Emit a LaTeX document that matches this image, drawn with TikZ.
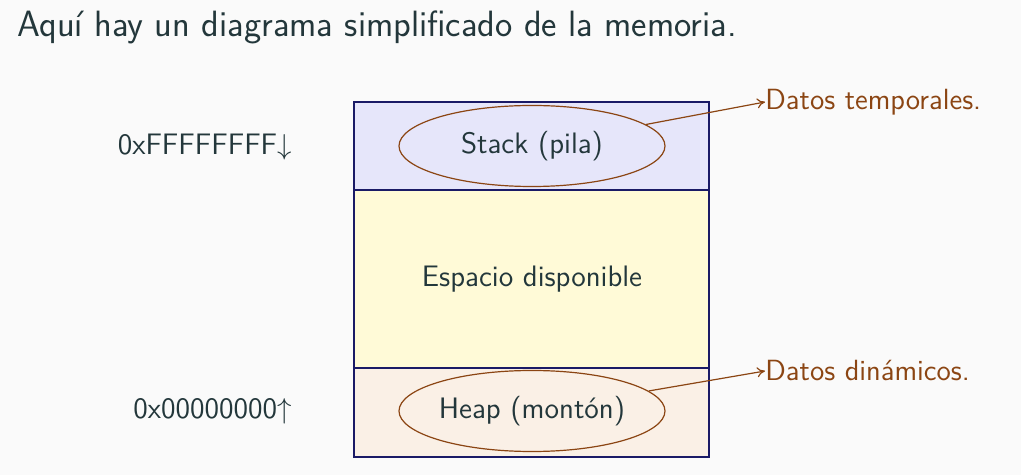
\documentclass[tikz,border=0pt]{standalone}
\usetikzlibrary{shapes.geometric,arrows.meta}
\definecolor{bg}{HTML}{FAFAFA}
\definecolor{txt}{HTML}{23373B}
\definecolor{stackfill}{HTML}{E6E6FA}
\definecolor{spacefill}{HTML}{FFFAD7}
\definecolor{heapfill}{HTML}{FAF0E6}
\definecolor{frame}{HTML}{1A1A66}
\definecolor{brn}{HTML}{8B4513}
\begin{document}
\begin{tikzpicture}[x=0.5pt,y=-0.5pt,
  seg/.style={draw=frame,line width=0.6pt},
  oval/.style={ellipse,draw=brn,line width=0.6pt,minimum width=133pt,minimum height=40.5pt,inner sep=0pt,text=txt,font=\sffamily\fontsize{14.8}{16}\selectfont},
  note/.style={text=brn,anchor=west,inner sep=0pt,font=\sffamily\fontsize{14.6}{16}\selectfont},
  addr/.style={text=txt,anchor=east,inner sep=0pt,font=\sffamily\fontsize{14.8}{16}\selectfont},
  lbl/.style={text=txt,inner sep=0pt,font=\sffamily\fontsize{14.8}{16}\selectfont},
  pointer/.style={draw=brn,line width=0.6pt,-{To[length=4pt,width=5pt]}}]
\fill[bg] (0,0) rectangle (1021,475);
\useasboundingbox (0,0) rectangle (1021,475);
\node[anchor=west,inner sep=0pt,text=txt,font=\sffamily\fontsize{18.3}{20}\selectfont] (title) at (17,27) {Aquí hay un diagrama simplificado de la memoria.};
\filldraw[seg,fill=stackfill] (354,102) rectangle (709,190);
\filldraw[seg,fill=spacefill] (354,190) rectangle (709,368);
\filldraw[seg,fill=heapfill] (354,368) rectangle (709,457);
\node[oval] (stack) at (532,146) {Stack (pila)};
\node[oval] (heap) at (532,411) {Heap (montón)};
\node[lbl] (space) at (532,279) {Espacio disponible};
\node[note] (tmp) at (765,102) {Datos temporales.};
\node[note] (dyn) at (765,371) {Datos dinámicos.};
\draw[pointer] (stack) -- (tmp.west);
\draw[pointer] (heap) -- (dyn.west);
\node[addr] (hi) at (292,147) {0xFFFFFFFF$\downarrow$};
\node[addr] (lo) at (292,411) {0x00000000$\uparrow$};
\end{tikzpicture}
\end{document}
